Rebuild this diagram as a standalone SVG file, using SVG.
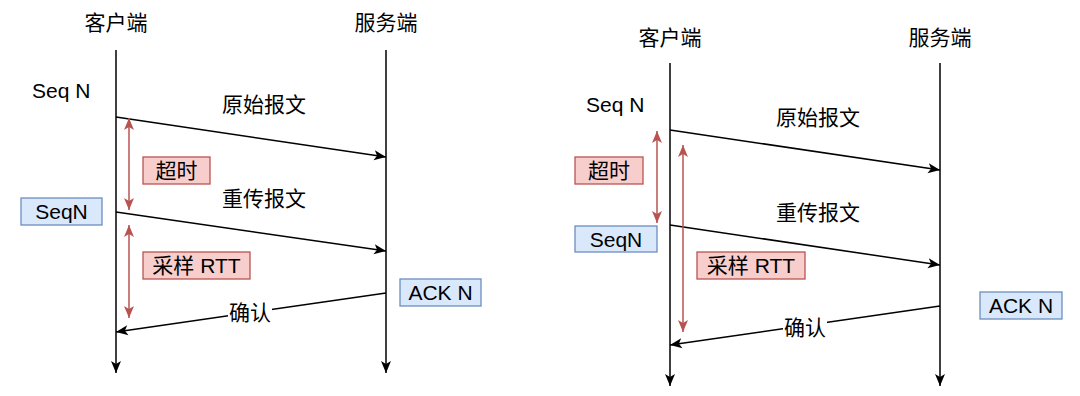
<svg xmlns="http://www.w3.org/2000/svg" width="1080" height="396" viewBox="0 0 1080 396">
<style>
text{font-family:"Liberation Sans","Noto Sans CJK SC",Arial,sans-serif;font-size:21px;fill:#000;dominant-baseline:central}
.c{text-anchor:middle}
.ln{stroke:#000;stroke-width:1.5;fill:none}
.rd{stroke:#b85450;stroke-width:1.5;fill:none}
.red{fill:#f8cecc;stroke:#b85450;stroke-width:1.3}
.blue{fill:#dae8fc;stroke:#6c8ebf;stroke-width:1.3}
</style>
<defs>
<marker id="ab" markerUnits="userSpaceOnUse" markerWidth="14" markerHeight="12" refX="12" refY="5" orient="auto" viewBox="0 0 14 10">
<path d="M0,0 L12,5 L0,10 L3,5 z" fill="#000"/>
</marker>
<marker id="ar" markerUnits="userSpaceOnUse" markerWidth="14" markerHeight="12" refX="12" refY="5" orient="auto" viewBox="0 0 14 10">
<path d="M0,0 L12,5 L0,10 L3,5 z" fill="#b85450"/>
</marker>
<marker id="ars" markerUnits="userSpaceOnUse" markerWidth="14" markerHeight="12" refX="12" refY="5" orient="auto-start-reverse" viewBox="0 0 14 10">
<path d="M0,0 L12,5 L0,10 L3,5 z" fill="#b85450"/>
</marker>
</defs>
<rect width="1080" height="396" fill="#fff"/>

<!-- Left diagram -->
<g id="left-client"><text class="c" x="116" y="22">客户端</text></g>
<g id="left-server"><text class="c" x="386" y="22">服务端</text></g>
<g id="left-seqn"><text x="32" y="90">Seq N</text></g>
<g id="left-timeout"><rect class="red" x="143" y="157" width="67" height="27"/><text class="c" x="176.5" y="170.5">超时</text></g>
<g id="left-seqn2"><rect class="blue" x="21" y="198" width="81" height="27"/><text class="c" x="61.5" y="211.5">SeqN</text></g>
<g id="left-rtt"><rect class="red" x="143" y="252" width="107" height="27"/><text class="c" x="196.5" y="265.5">采样 RTT</text></g>
<g id="left-ack"><rect class="blue" x="400" y="279" width="81" height="27"/><text class="c" x="440.5" y="292.5">ACK N</text></g>

<g id="left-connectors">
<line class="ln" x1="116" y1="50" x2="116" y2="373" marker-end="url(#ab)"/>
<line class="ln" x1="386" y1="50" x2="386" y2="373" marker-end="url(#ab)"/>
<line class="ln" x1="116" y1="117" x2="386" y2="157" marker-end="url(#ab)"/>
<text class="c" x="264" y="104">原始报文</text>
<line class="ln" x1="116" y1="212" x2="386" y2="251" marker-end="url(#ab)"/>
<text class="c" x="264" y="198">重传报文</text>
<line class="ln" x1="386" y1="293" x2="116" y2="332" marker-end="url(#ab)"/>
<rect x="228" y="301" width="44" height="23" fill="#fff"/>
<text class="c" x="250" y="312">确认</text>
<line class="rd" x1="129" y1="118" x2="129" y2="210" marker-start="url(#ars)" marker-end="url(#ars)"/>
<line class="rd" x1="129" y1="225" x2="129" y2="318" marker-start="url(#ars)" marker-end="url(#ars)"/>
</g>

<!-- Right diagram -->
<g id="right-client"><text class="c" x="670" y="37">客户端</text></g>
<g id="right-server"><text class="c" x="940" y="37">服务端</text></g>
<g id="right-seqn"><text x="586" y="104">Seq N</text></g>
<g id="right-timeout"><rect class="red" x="575" y="157" width="68" height="27"/><text class="c" x="609" y="170.5">超时</text></g>
<g id="right-seqn2"><rect class="blue" x="575" y="226" width="82" height="26"/><text class="c" x="616" y="239">SeqN</text></g>
<g id="right-rtt"><rect class="red" x="697" y="252" width="108" height="27"/><text class="c" x="751" y="265.5">采样 RTT</text></g>
<g id="right-ack"><rect class="blue" x="980" y="292" width="82" height="27"/><text class="c" x="1021" y="305.5">ACK N</text></g>

<g id="right-connectors">
<line class="ln" x1="670" y1="63" x2="670" y2="386" marker-end="url(#ab)"/>
<line class="ln" x1="940" y1="63" x2="940" y2="386" marker-end="url(#ab)"/>
<line class="ln" x1="670" y1="130" x2="940" y2="170" marker-end="url(#ab)"/>
<text class="c" x="818" y="117">原始报文</text>
<line class="ln" x1="670" y1="225" x2="940" y2="265" marker-end="url(#ab)"/>
<text class="c" x="818" y="212">重传报文</text>
<line class="ln" x1="940" y1="306" x2="670" y2="345" marker-end="url(#ab)"/>
<rect x="783" y="316" width="44" height="23" fill="#fff"/>
<text class="c" x="805" y="327">确认</text>
<line class="rd" x1="657" y1="131" x2="657" y2="223" marker-start="url(#ars)" marker-end="url(#ars)"/>
<line class="rd" x1="683" y1="145" x2="683" y2="332" marker-start="url(#ars)" marker-end="url(#ars)"/>
</g>
</svg>
